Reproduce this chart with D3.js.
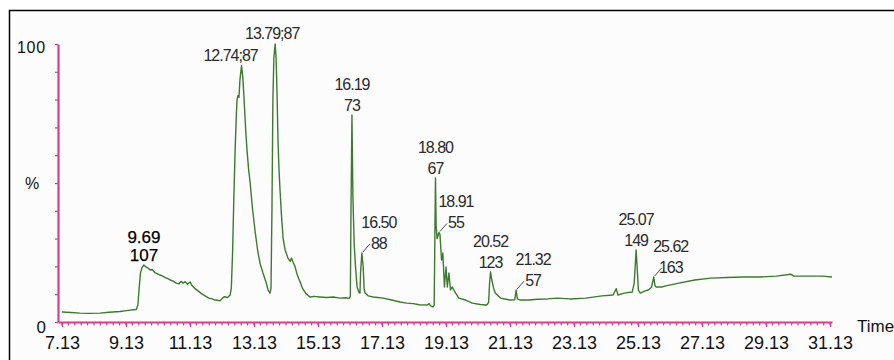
<!DOCTYPE html>
<html>
<head>
<meta charset="utf-8">
<script src="https://cdn.jsdelivr.net/npm/d3@7"></script>
<style>
  body { margin: 0; background: #fff; }
  svg { display: block; font-family: "Liberation Sans", Arial, sans-serif; }
</style>
</head>
<body>
<svg id="chrom" width="894" height="360"></svg>
<script>
// retention time (min) and relative abundance (%)
const times = [7.13, 7.40, 7.69, 8.00, 8.32, 8.60, 8.94, 9.20, 9.45, 9.50, 9.54, 9.58, 9.63, 9.69, 9.75, 9.82, 9.88, 9.95,
  10.03, 10.10, 10.19, 10.28, 10.36, 10.44, 10.51, 10.60, 10.70, 10.78, 10.85, 10.92, 10.98, 11.05, 11.13, 11.20, 11.29,
  11.40, 11.50, 11.60, 11.72, 11.82, 11.91, 12.00, 12.07, 12.14, 12.20, 12.30, 12.38, 12.42, 12.46, 12.50, 12.54, 12.58,
  12.60, 12.63, 12.66, 12.69, 12.74, 12.78, 12.82, 12.87, 12.91, 12.96, 13.01, 13.08, 13.16, 13.24, 13.32, 13.41, 13.50,
  13.57, 13.63, 13.66, 13.69, 13.72, 13.75, 13.79, 13.82, 13.85, 13.88, 13.91, 13.94, 13.99, 14.04, 14.10, 14.19, 14.26,
  14.30, 14.35, 14.41, 14.48, 14.57, 14.65, 14.75, 14.88, 15.00, 15.19, 15.40, 15.60, 15.82, 16.00, 16.10, 16.14, 16.16,
  16.19, 16.22, 16.26, 16.30, 16.35, 16.41, 16.44, 16.46, 16.50, 16.54, 16.57, 16.60, 16.70, 16.85, 17.00, 17.16, 17.40,
  17.69, 17.90, 18.10, 18.30, 18.54, 18.60, 18.65, 18.72, 18.76, 18.78, 18.80, 18.82, 18.85, 18.91, 18.94, 18.99, 19.03,
  19.08, 19.13, 19.17, 19.22, 19.27, 19.32, 19.43, 19.53, 19.74, 19.95, 20.20, 20.40, 20.46, 20.49, 20.52, 20.56, 20.62,
  20.67, 20.83, 21.00, 21.13, 21.28, 21.32, 21.36, 21.45, 21.70, 22.00, 22.30, 22.60, 23.00, 23.50, 24.00, 24.35, 24.45,
  24.50, 24.70, 24.95, 25.01, 25.05, 25.07, 25.10, 25.14, 25.20, 25.35, 25.45, 25.55, 25.62, 25.66, 25.70, 25.86, 26.00,
  26.40, 26.90, 27.40, 27.90, 28.40, 28.95, 29.45, 29.90, 30.00, 30.40, 30.90, 31.19];
const abundance = [3.6, 3.4, 3.2, 3.1, 3.2, 3.5, 3.8, 4.2, 4.5, 6.0, 12.0, 17.5, 19.6, 20.5, 19.8, 19.4, 18.7, 18.9,
  17.8, 17.4, 16.9, 16.5, 16.0, 15.6, 15.1, 14.7, 14.0, 13.7, 14.6, 14.0, 14.5, 13.6, 14.4, 13.0, 12.0,
  11.0, 10.1, 9.4, 8.6, 8.3, 7.9, 7.8, 7.6, 8.5, 9.1, 8.8, 9.6, 12.0, 25.0, 45.0, 62.0, 75.0,
  80.0, 81.5, 80.8, 87.1, 92.2, 88.0, 80.0, 69.0, 62.0, 55.0, 50.0, 41.0, 33.0, 26.0, 21.0, 17.6, 14.5,
  11.5, 10.4, 12.0, 40.0, 80.0, 95.0, 100.0, 95.0, 82.0, 65.0, 55.0, 48.0, 38.0, 30.0, 26.0, 23.0, 21.8,
  23.0, 21.5, 20.0, 17.0, 14.4, 12.0, 10.2, 9.0, 9.2, 9.0, 8.8, 9.0, 8.6, 8.7, 8.5, 9.2, 40.0,
  74.5, 45.0, 28.0, 20.0, 12.6, 10.6, 10.4, 18.0, 24.8, 20.0, 12.0, 10.4, 9.4, 9.0, 8.8, 8.6, 8.0,
  7.2, 6.8, 6.6, 6.2, 6.1, 6.6, 5.8, 5.4, 6.0, 30.0, 51.8, 35.0, 30.0, 32.2, 31.5, 22.3, 24.8,
  12.6, 19.8, 12.6, 17.6, 11.5, 12.6, 10.4, 8.6, 7.9, 6.8, 6.3, 6.1, 7.0, 14.0, 18.0, 15.1, 12.0,
  10.4, 8.6, 8.2, 7.9, 8.0, 11.5, 8.3, 7.9, 7.9, 8.2, 8.3, 8.6, 8.3, 8.6, 9.4, 9.7, 12.0,
  9.7, 10.4, 10.8, 14.0, 22.0, 25.9, 20.0, 11.5, 10.4, 11.2, 11.5, 12.5, 16.2, 13.0, 12.6, 12.6, 13.0,
  14.0, 15.1, 15.8, 16.0, 16.2, 16.2, 16.5, 17.2, 16.5, 16.5, 16.5, 16.2];

const xTickLabels = ["7.13", "9.13", "11.13", "13.13", "15.13", "17.13", "19.13", "21.13", "23.13", "25.13", "27.13", "29.13", "31.13"];

// peak annotations: time, label lines, leader line or not
const peakTimes = [9.69, 12.74, 13.79, 16.19, 16.50, 18.80, 18.91, 20.52, 21.32, 25.07, 25.62];
const peakLabels = [["9.69", "107"], ["12.74;87"], ["13.79;87"], ["16.19", "73"], ["16.50", "88"], ["18.80", "67"],
  ["18.91", "55"], ["20.52", "123"], ["21.32", "57"], ["25.07", "149"], ["25.62", "163"]];
const peakHeights = [20.5, 92.2, 100, 74.5, 24.8, 51.8, 32.2, 18.0, 11.5, 25.9, 16.2];
const peakLeader = [false, false, false, false, true, false, true, false, true, false, true];

const svg = d3.select("#chrom");
const pink = "#d0408f";

// frame
svg.append("rect").attr("x", 9.5).attr("y", 10.5).attr("width", 900).attr("height", 360)
  .attr("fill", "#fcfcfc").attr("stroke", "#000").attr("stroke-width", 1.5);

const x = d3.scaleLinear().domain([7.005, 31.19]).range([58, 832]);
const y = d3.scaleLinear().domain([0, 100]).range([322, 44]);

// minor ticks along x
const minor = d3.range(7.13, 31.2, 0.2);
svg.append("g").selectAll("line").data(minor).join("line")
  .attr("x1", d => x(d)).attr("x2", d => x(d))
  .attr("y1", y(0)).attr("y2", y(0) + 3.5)
  .attr("stroke", pink).attr("stroke-width", 1.2);

const xAxis = d3.axisBottom(x)
  .tickValues(xTickLabels.map(Number))
  .tickFormat((d, i) => xTickLabels[i])
  .tickSize(5).tickSizeOuter(0);
const gx = svg.append("g").attr("transform", `translate(0,${y(0)})`).call(xAxis);
gx.select(".domain").attr("stroke", pink).attr("stroke-width", 2.2);
gx.selectAll(".tick line").attr("stroke", pink).attr("stroke-width", 1.4);
gx.selectAll(".tick text").attr("font-size", 18).attr("fill", "#111")
  .attr("y", 27).attr("dy", 0)
  .attr("font-family", "'Liberation Sans', Arial, sans-serif");

const yAxis = d3.axisLeft(y).tickValues(d3.range(0, 101, 10)).tickFormat("").tickSize(3).tickSizeOuter(0);
const gy = svg.append("g").attr("transform", `translate(${x.range()[0]},0)`).call(yAxis);
gy.select(".domain").attr("stroke", pink).attr("stroke-width", 2.2);
gy.selectAll(".tick line").attr("stroke", pink).attr("stroke-width", 1.2);

// y labels
svg.append("text").attr("x", 46).attr("y", y(100) + 9).attr("text-anchor", "end")
  .attr("font-size", 16).attr("letter-spacing", 0.8).attr("fill", "#111").text("100");
svg.append("text").attr("x", 32).attr("y", y(50) + 6).attr("text-anchor", "middle")
  .attr("font-size", 16).attr("fill", "#111").text("%");
svg.append("text").attr("x", 46).attr("y", y(0) + 11).attr("text-anchor", "end")
  .attr("font-size", 17).attr("fill", "#111").text("0");
svg.append("text").attr("x", 857).attr("y", y(0) + 10)
  .attr("font-size", 17).attr("fill", "#111").text("Time");

// trace
const pts = times.map((t, i) => [t, abundance[i]]);
const line = d3.line().x(d => x(d[0])).y(d => y(d[1]));
svg.append("path").datum(pts).attr("d", line)
  .attr("fill", "none").attr("stroke", "#3d7a2f").attr("stroke-width", 1.4)
  .attr("stroke-linejoin", "round");

// peak labels
const ann = svg.append("g");
peakTimes.forEach((t, i) => {
  const px = x(t), py = y(peakHeights[i]);
  const lines = peakLabels[i];
  const first = i === 0;
  let cx = px, base = py - 4;
  if (peakLeader[i]) {
    cx = px + 17;
    base = py - 4;
    ann.append("line").attr("x1", px + 1).attr("y1", py - 1).attr("x2", px + 8).attr("y2", py - 9)
      .attr("stroke", "#333").attr("stroke-width", 0.9);
  }
  if (lines.length === 1) {
    cx = i === 1 ? px - 11 : px - 3;
    base = py - 5;
  }
  const lh = first ? 18 : 21;
  lines.slice().reverse().forEach((s, j) => {
    ann.append("text")
      .attr("x", cx).attr("y", base - j * lh)
      .attr("text-anchor", "middle")
      .attr("font-size", first ? 17 : 16)
      .attr("letter-spacing", first ? 0 : -1)
      .attr("fill", first ? "#000" : "#2a2a2a")
      .attr("stroke", first ? "#000" : "none")
      .attr("stroke-width", first ? 0.25 : 0)
      .text(s);
  });
});
</script>
</body>
</html>
